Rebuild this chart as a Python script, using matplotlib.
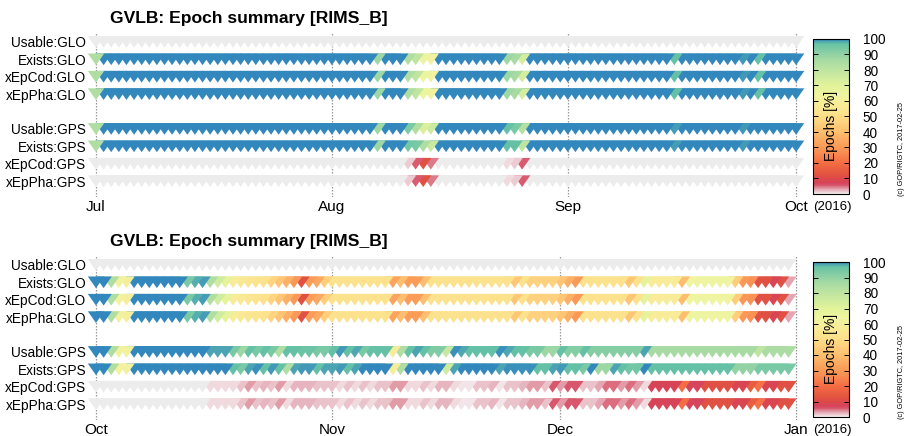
import datetime as dt
import matplotlib
matplotlib.use("Agg")
import matplotlib.pyplot as plt
import matplotlib.dates as mdates
from matplotlib.collections import PolyCollection
from matplotlib.colors import LinearSegmentedColormap, Normalize
from matplotlib.cm import ScalarMappable

plt.rcParams["font.family"] = ["Liberation Sans", "DejaVu Sans"]

NAN = float("nan")

TITLE = "GVLB: Epoch summary [RIMS_B]"
ROW_LABELS = ["Usable:GLO", "Exists:GLO", "xEpCod:GLO", "xEpPha:GLO",
              "Usable:GPS", "Exists:GPS", "xEpCod:GPS", "xEpPha:GPS"]
ROW_SLOTS = [0, 1, 2, 3, 5, 6, 7, 8]

# ---- Q3 2016: daily percentages, run-length encoded as (value, days) ----
q3_start = dt.date(2016, 7, 1)
q3_months = ["Jul", "Aug", "Sep", "Oct"]
q3_month_starts = [dt.date(2016, 7, 1), dt.date(2016, 8, 1),
                   dt.date(2016, 9, 1), dt.date(2016, 10, 1)]

q3_usable_glo = [(NAN, 93)]
q3_exists_glo = [(84, 1), (100, 36), (88, 1), (100, 3), (84, 1), (80, 1), (66, 1),
                 (62, 1), (100, 9), (88, 1), (86, 1), (74, 1), (100, 19), (97, 1),
                 (100, 8), (99.2, 1), (100, 1), (97, 1), (100, 5)]
q3_xepcod_glo = q3_exists_glo
q3_xeppha_glo = q3_exists_glo
q3_usable_gps = [(84, 1), (100, 36), (88, 1), (100, 3), (94, 1), (84, 1), (72, 1),
                 (76, 1), (100, 9), (97, 1), (94, 1), (83, 1), (100, 19), (99, 1),
                 (100, 8), (99.2, 1), (100, 7)]
q3_exists_gps = [(84, 1), (100, 36), (88, 1), (100, 3), (95, 1), (94, 1), (84, 1),
                 (77, 1), (100, 9), (97, 1), (97, 1), (80, 1), (100, 19), (99, 1),
                 (100, 8), (99.2, 1), (100, 7)]
q3_xepcod_gps = [(NAN, 41), (1.5, 1), (5.5, 1), (12, 1), (4.5, 1), (NAN, 9),
                 (0.8, 1), (1.5, 1), (5.5, 1), (NAN, 36)]
q3_xeppha_gps = q3_xepcod_gps

# ---- Q4 2016 ----
q4_start = dt.date(2016, 10, 1)
q4_months = ["Oct", "Nov", "Dec", "Jan"]
q4_month_starts = [dt.date(2016, 10, 1), dt.date(2016, 11, 1),
                   dt.date(2016, 12, 1), dt.date(2017, 1, 1)]

q4_usable_glo = [(NAN, 92)]
q4_exists_glo = [(100, 2), (84, 1), (62, 1), (60, 1), (100, 7), (94, 1), (98, 1),
                 (99, 1), (84, 1), (75, 1), (68, 1), (58, 1), (56, 1), (54, 1),
                 (53, 1), (52, 1), (47, 1), (42, 1), (36, 1), (30, 1), (12, 1),
                 (31, 1), (34, 1), (45, 1), (52, 8), (33, 1), (40, 1), (31, 2),
                 (40, 1), (52, 11), (43, 1), (52, 1), (46, 4), (42, 1), (36, 1),
                 (30, 1), (52, 6), (42, 1), (52, 1), (68, 1), (58, 4), (40, 1),
                 (64, 6), (45, 1), (30, 1), (28, 1), (12, 2), (8, 1), (12, 1), (3, 1)]
q4_xepcod_glo = q4_exists_glo
q4_xeppha_glo = q4_exists_glo
q4_usable_gps = [(100, 2), (84, 1), (62, 2), (100, 10), (98.5, 3), (94, 1), (88, 1),
                 (97, 1), (94, 1), (97, 1), (94, 1), (84, 1), (97, 2), (96, 2),
                 (94, 2), (97, 1), (99.2, 1), (97, 1), (98.3, 1), (94, 1), (97, 3),
                 (58, 1), (84, 1), (97, 1), (98.5, 1), (97, 1), (93, 2), (78, 1),
                 (99.5, 1), (98.3, 1), (97, 4), (99.5, 1), (98.3, 1), (97, 2),
                 (94, 2), (88, 2), (97, 1), (92, 2), (97, 1), (92, 7), (98.5, 1),
                 (86, 14), (80, 1), (85, 4)]
q4_exists_gps = [(100, 2), (84, 1), (62, 2), (100, 13), (97, 1), (94, 1), (98.5, 1),
                 (99.6, 1), (97, 1), (99.2, 1), (97, 1), (84, 1), (98.5, 1),
                 (99.2, 2), (97, 1), (98.5, 2), (99.2, 1), (97, 1), (98.5, 1),
                 (100, 4), (58, 1), (84, 1), (100, 5), (76, 1), (98.5, 1), (100, 5),
                 (98.5, 1), (99.5, 1), (99.6, 3), (97, 2), (98.5, 1), (99.2, 1),
                 (97, 2), (94, 1), (100, 1), (88, 2), (98.5, 1), (97, 1), (95, 2),
                 (100, 1), (97, 11), (90, 3), (94, 5)]
q4_xepcod_gps = [(NAN, 15), (0.8, 4), (1.8, 1), (3.5, 1), (1.8, 1), (2.5, 1),
                 (1.8, 1), (3.5, 1), (0.9, 1), (2.5, 3), (1.8, 2), (1.8, 1),
                 (0.9, 1), (1.8, 1), (0.9, 1), (1.8, 1), (0.9, 1), (1.8, 1),
                 (1.8, 1), (3.5, 2), (0.9, 2), (1.8, 1), (0.9, 1), (2.5, 2),
                 (0.9, 1), (0.5, 2), (1.8, 2), (2.5, 1), (0.5, 1), (1.8, 2),
                 (2.5, 1), (3.5, 2), (1.8, 1), (5.7, 1), (3.5, 1), (5.7, 2),
                 (1.8, 2), (3, 1), (5, 2), (3.5, 1), (5, 1), (3.5, 1), (0.9, 1),
                 (7.5, 4), (20, 1), (7, 2), (12, 4), (8.5, 2), (16, 1), (21, 1),
                 (8.5, 2), (12, 2)]
q4_xeppha_gps = q4_xepcod_gps

COLORBAR_TICKS = list(range(0, 101, 10))
COLORBAR_LABEL = "Epochs [%]"
YEAR_NOTE = "(2016)"
CREDIT = "(c) GOP/RIGTC, 2017-02-25"

# colour scale for the daily percentage
CMAP_STOPS = [(0, "#f5eff1"), (1, "#eed4d9"), (2.5, "#e6b2bc"), (4, "#df8a98"),
              (5.5, "#d85a6e"), (7, "#d6435a"), (10, "#dc4a48"), (14, "#e5583f"),
              (20, "#f46d43"), (27, "#f98e52"), (33, "#fca45d"), (40, "#fdbf6f"),
              (47, "#fed480"), (52, "#fce28c"), (58, "#f8ec98"), (64, "#eff4a0"),
              (70, "#e2f39a"), (78, "#c6e8a0"), (86, "#a9dba3"), (92, "#86cea4"),
              (97, "#66c2a5"), (98.5, "#4ea6b2"), (100, "#3288bd")]
NODATA = "#ececec"

cmap = LinearSegmentedColormap.from_list(
    "epochs", [(v / 100.0, c) for v, c in CMAP_STOPS], N=512)
norm = Normalize(0, 100)

HALF_W = 1.08   # half width of a day marker, in days
HALF_H = 0.335  # half height of a day marker, in row slots


def expand(rle):
    out = []
    for value, n in rle:
        out.extend([value] * n)
    return out


def draw_panel(ax, start, rows, month_starts, month_labels):
    x0 = mdates.date2num(start)
    polys, cols = [], []
    for slot, rle in zip(ROW_SLOTS, rows):
        vals = expand(rle)
        # later days first so each day overlaps the following one
        for d in range(len(vals) - 1, -1, -1):
            x = x0 + d
            polys.append([(x - HALF_W, slot - HALF_H), (x + HALF_W, slot - HALF_H),
                          (x, slot + HALF_H)])
            v = vals[d]
            cols.append(NODATA if v != v else cmap(norm(v)))
    pc = PolyCollection(polys, facecolors=cols, edgecolors="none",
                        antialiased=True, zorder=3, clip_on=False)
    ax.add_collection(pc)
    ax.set_xlim(x0 - 0.92, x0 + 93.17)
    ax.set_ylim(8.91, -0.57)
    ax.set_xticks([mdates.date2num(m) for m in month_starts], month_labels)
    ax.set_yticks(ROW_SLOTS, ROW_LABELS)
    ax.tick_params(axis="both", length=0)
    ax.tick_params(axis="y", labelsize=9.8, pad=2)
    ax.tick_params(axis="x", labelsize=11, pad=2)
    ax.grid(axis="x", linestyle=(0, (1.2, 1.2)), color="#9a9a9a", lw=0.9, zorder=1)
    ax.set_axisbelow(True)
    for s in ax.spines.values():
        s.set_visible(False)


W, H = 905, 436
fig = plt.figure(figsize=(W / 100, H / 100), dpi=100)


def fx(px):
    return px / W


def fy(py):
    return 1 - py / H


panels = [
    (q3_start, [q3_usable_glo, q3_exists_glo, q3_xepcod_glo, q3_xeppha_glo,
                q3_usable_gps, q3_exists_gps, q3_xepcod_gps, q3_xeppha_gps],
     q3_month_starts, q3_months, 0),
    (q4_start, [q4_usable_glo, q4_exists_glo, q4_xepcod_glo, q4_xeppha_glo,
                q4_usable_gps, q4_exists_gps, q4_xepcod_gps, q4_xeppha_gps],
     q4_month_starts, q4_months, 223),
]

for start, rows, mstarts, mlabels, off in panels:
    ax = fig.add_axes([fx(89), fy(197 + off), fx(805 - 89), (165) / H])
    draw_panel(ax, start, rows, mstarts, mlabels)

    fig.text(fx(110), fy(18 + off), TITLE, ha="left", va="center",
             fontsize=12.6, fontweight="bold")

    cax = fig.add_axes([fx(813), fy(194 + off), fx(36), 155 / H])
    cb = fig.colorbar(ScalarMappable(norm=norm, cmap=cmap), cax=cax,
                      ticks=COLORBAR_TICKS)
    cb.outline.set_linewidth(0.8)
    cax.tick_params(direction="in", length=3.5, width=0.7, left=True, right=True,
                    labelleft=False, labelright=True, labelsize=9.8, pad=10)
    cax.text(0.5, 0.44, COLORBAR_LABEL, rotation=90, ha="center", va="center",
             fontsize=10, transform=cax.transAxes)

    fig.text(fx(832), fy(207 + off), YEAR_NOTE, ha="center", va="center",
             fontsize=9.5)
    fig.text(fx(901.5), fy(149 + off), CREDIT, rotation=90, ha="center",
             va="center", fontsize=5.3)

fig.savefig("out.png", dpi=100)
